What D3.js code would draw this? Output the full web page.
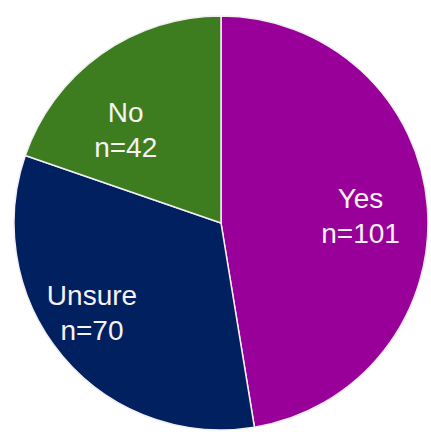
<!DOCTYPE html>
<html><head><meta charset="utf-8">
<script src="https://cdn.jsdelivr.net/npm/d3@7"></script>
<style>html,body{margin:0;padding:0;background:#fff;}svg{display:block;}</style>
</head><body>
<svg id="chart" width="431" height="432"></svg>
<script>
const categories = ["Yes", "Unsure", "No"];
const counts = [101, 70, 42];
const colors = ["#990099", "#002060", "#3d7d1f"];

const W = 431, H = 432, cx = 221, cy = 223, R = 207;
const labelNudge = {Yes: [0, 4], Unsure: [-22, 0], No: [-14, 21]};

const svg = d3.select("#chart");
const g = svg.append("g").attr("transform", `translate(${cx},${cy})`);
const data = categories.map((c, i) => ({cat: c, n: counts[i], color: colors[i]}));
const pie = d3.pie().value(d => d.n).sort(null);
const arcs = pie(data);
const arc = d3.arc().innerRadius(0).outerRadius(R);
const labelArc = d3.arc().innerRadius(140).outerRadius(140);

g.selectAll("path.slice").data(arcs).join("path")
  .attr("class", "slice")
  .attr("d", arc)
  .attr("fill", d => d.data.color)
  .attr("stroke", "#f2eef2")
  .attr("stroke-width", 1.5)
  .attr("stroke-linejoin", "round");

const lbl = g.selectAll("text.lbl").data(arcs).join("text")
  .attr("class", "lbl")
  .attr("text-anchor", "middle")
  .attr("font-family", "Liberation Sans, Arial, sans-serif")
  .attr("font-size", 28)
  .attr("fill", "#f6f2f6")
  .attr("transform", d => {
    const [x, y] = labelArc.centroid(d);
    const [dx, dy] = labelNudge[d.data.cat];
    return `translate(${x + dx},${y + dy - 8})`;
  });
lbl.append("tspan").attr("x", 0).attr("y", 0).text(d => d.data.cat);
lbl.append("tspan").attr("x", 0).attr("y", 35).text(d => "n=" + d.data.n);
</script>
</body></html>
